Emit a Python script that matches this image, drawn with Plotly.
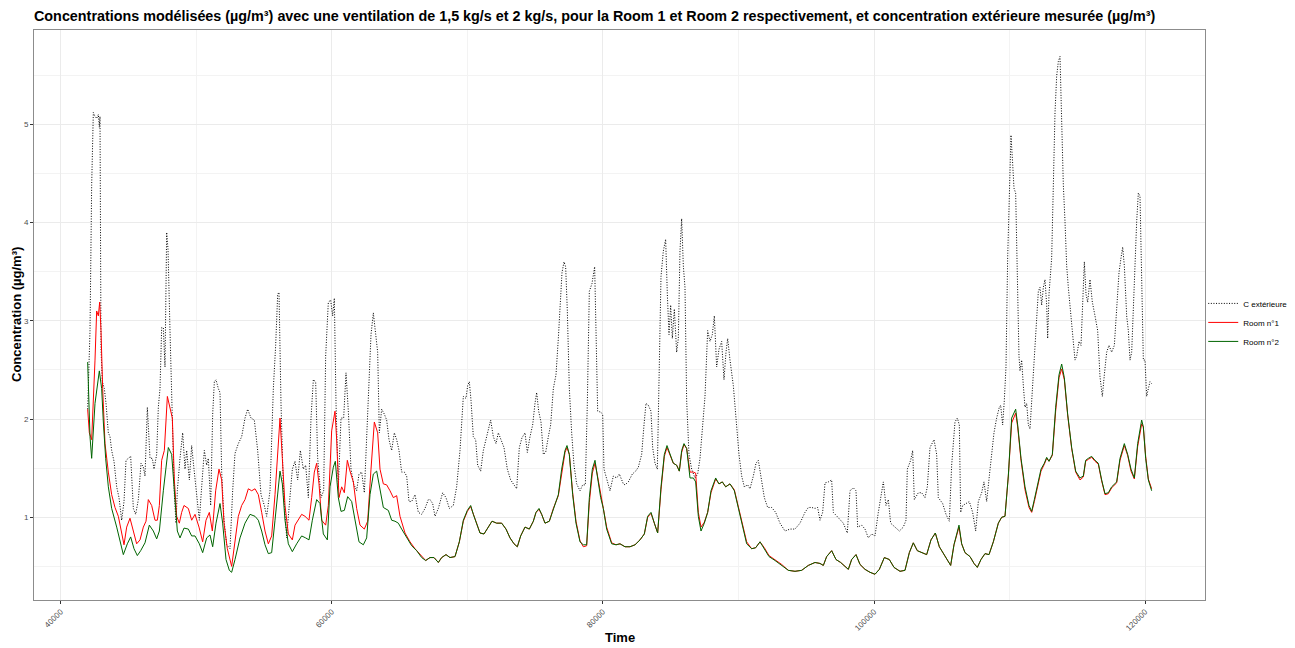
import plotly.graph_objects as go

# ---------------- data ----------------
time_ext = [
    41989, 42162, 42284, 42407, 42530, 42653, 42776, 42850, 42899, 42973, 43071, 43219, 43342, 43514, 43637, 43760,
    43932, 44130, 44301, 44498, 44670, 44817, 44989, 45162, 45358, 45530, 45727, 45924, 46096, 46219, 46391, 46588,
    46760, 46883, 47080, 47202, 47325, 47448, 47571, 47694, 47817, 47916, 48063, 48235, 48383, 48506, 48604, 48801,
    48998, 49170, 49293, 49490, 49661, 49834, 50030, 50227, 50399, 50596, 50768, 50891, 51063, 51211, 51334, 51457,
    51629, 51752, 51875, 52047, 52243, 52489, 52686,
    52858, 53104, 53350, 53596, 53792, 54038, 54284, 54530, 54776, 55022, 55194, 55440, 55686, 55858, 56006, 56104,
    56251, 56424, 56669, 56842, 57087, 57284, 57481, 57678, 57899, 58071, 58268, 58465, 58637, 58809, 58956, 59202,
    59399, 59546, 59743, 59915, 60063, 60186, 60309, 60481, 60678, 60874, 61046, 61219, 61415, 61612, 61833, 62005,
    62202, 62399, 62571, 62743, 62891, 63063, 63186, 63383, 63505, 63678, 63874, 64046, 64219, 64415, 64612, 64784,
    64956, 65153, 65350, 65522, 65694, 65891, 66137, 66383, 66628, 66874, 67120,
    67243, 67440, 67612, 67858, 68177, 68423, 68669, 68964, 69210, 69456, 69702, 69899, 70022, 70145, 70268, 70440,
    70612, 70759, 70981, 71177, 71472, 71718, 71915, 72112, 72284, 72456, 72702, 72948, 73194, 73440, 73636, 73833,
    74030, 74251, 74423, 74620, 74817, 74989, 75112, 75259, 75431, 75604, 75776, 75972, 76145, 76341, 76538, 76710,
    76833, 76981, 77128, 77251, 77374, 77522, 77694, 77866, 78063, 78309, 78505, 78702, 78849, 78997, 79194, 79390,
    79489, 79612, 79833, 79981, 80079, 80276, 80522, 80768, 81013, 81210, 81505,
    81628, 81874, 82169, 82415, 82612, 82858, 83030, 83177, 83349, 83546, 83669, 83841, 84013, 84136, 84284, 84456,
    84628, 84751, 84874, 84997, 85120, 85267, 85439, 85562, 85685, 85808, 85931, 86054, 86177, 86349, 86546, 86792,
    86989, 87161, 87333, 87530, 87726, 87898, 88071, 88218, 88390, 88562, 88759, 88931, 89079, 89202, 89374, 89620,
    89817, 90038, 90235, 90431, 90677, 90849, 91095, 91292, 91464, 91661, 91907, 92153, 92448, 92743, 93062, 93431,
    93800, 94169, 94538, 94907, 95153, 95398, 95644, 95841,
    96013, 96210, 96382, 96628, 96874, 96997, 97243, 97488, 97734, 98029, 98226, 98472, 98669, 98792, 99087, 99333,
    99579, 99824, 100070, 100316, 100562, 100685, 100880, 101054, 101226, 101546, 101865, 102161, 102357, 102456,
    102701, 102849, 102972, 103267, 103513, 103759, 103931, 104128, 104423, 104620, 104742, 105062, 105308, 105554,
    105726, 105972, 106144, 106292, 106390, 106538, 106783, 107029, 107275, 107497, 107693, 107939, 108111, 108308,
    108505, 108677, 108849, 109046, 109242, 109341, 109488, 109611, 109734, 109857, 109980, 110103, 110226, 110324,
    110447, 110570, 110693,
    110768, 110891, 111014, 111137, 111260, 111383, 111506, 111629, 111751, 111874, 112022, 112120, 112243, 112366,
    112489, 112612, 112735, 112809, 112907, 113006, 113104, 113227, 113350, 113473, 113596, 113719, 113842, 113965,
    114088, 114210, 114333, 114456, 114579, 114702, 114825, 114948, 115120, 115268, 115415, 115514, 115637, 115760,
    115932, 116104, 116301, 116497, 116669, 116842, 116989, 117161, 117333, 117530, 117727, 117899, 118071, 118219,
    118342, 118465, 118637, 118760, 118883, 119006, 119128, 119251, 119374, 119497, 119620, 119743, 119866, 119989,
    120112, 120235, 120358, 120481,
]
conc_ext = [
    2.10, 2.90, 4.38, 5.12, 5.08, 5.06, 5.10, 4.97, 5.08, 2.71, 2.38, 2.31, 2.16, 1.86, 1.82, 1.68,
    1.57, 1.31, 1.20, 0.97, 1.16, 1.58, 1.60, 1.62, 1.09, 1.03, 1.18, 1.55, 1.51, 1.42, 2.12, 1.60,
    1.60, 1.49, 1.64, 2.12, 2.31, 2.93, 2.93, 2.53, 3.90, 3.73, 2.90, 2.01, 1.23, 0.94, 1.27, 1.60,
    1.86, 1.49, 1.68, 1.38, 1.73, 1.49, 1.23, 0.97, 1.31, 1.68, 1.53, 1.60, 1.12, 2.05, 2.38, 2.40,
    2.31, 2.27, 1.46, 0.97, 0.72, 0.68, 1.27,
    1.65, 1.75, 1.82, 2.01, 2.10, 2.01, 1.99, 1.68, 1.23, 1.12, 1.01, 1.27, 2.31, 2.75, 3.27, 3.29,
    2.16, 1.31, 0.79, 1.09, 1.49, 1.57, 1.38, 1.68, 1.49, 1.53, 1.20, 2.01, 2.40, 2.38, 1.60, 1.20,
    1.27, 2.64, 3.19, 3.21, 3.05, 3.23, 2.16, 1.31, 2.01, 2.01, 2.47, 2.08, 1.49, 1.34, 1.27, 1.44,
    1.46, 1.25, 1.82, 2.31, 2.86, 3.08, 2.93, 2.68, 1.86, 2.10, 2.05, 1.99, 1.79, 1.68, 1.86, 1.79,
    1.68, 1.46, 1.46, 1.42, 1.16, 1.16, 1.23, 1.05, 1.03, 1.09, 1.18,
    1.18, 1.14, 1.01, 1.09, 1.25, 1.20, 1.09, 1.12, 1.31, 1.68, 2.23, 2.21, 2.34, 2.38, 2.19, 1.82,
    1.79, 1.53, 1.47, 1.68, 1.86, 1.99, 1.82, 1.75, 1.86, 1.79, 1.71, 1.49, 1.38, 1.33, 1.29, 1.71,
    1.81, 1.86, 1.66, 1.82, 1.94, 2.16, 2.27, 2.08, 1.97, 1.64, 1.66, 1.82, 1.94, 2.31, 2.45, 2.82,
    3.12, 3.49, 3.60, 3.55, 3.10, 2.31, 1.86, 1.53, 1.34, 1.27, 1.33, 1.33, 2.16, 3.30, 3.38, 3.55,
    2.90, 2.08, 2.07, 2.05, 1.49, 1.38, 1.27, 1.42, 1.40, 1.44, 1.34,
    1.33, 1.36, 1.44, 1.47, 1.51, 1.64, 1.94, 2.16, 2.14, 2.08, 1.71, 1.55, 1.49, 2.53, 3.45, 3.71,
    3.83, 3.27, 2.86, 3.16, 2.82, 3.12, 2.68, 2.82, 3.71, 4.04, 3.56, 3.34, 2.19, 1.64, 1.49, 1.40,
    1.44, 1.60, 1.94, 2.23, 2.90, 2.79, 2.86, 3.05, 2.53, 2.71, 2.79, 2.40, 2.68, 2.82, 2.60, 2.34,
    2.01, 1.64, 1.42, 1.31, 1.33, 1.29, 1.42, 1.55, 1.58, 1.42, 1.20, 1.10, 1.10, 1.05, 0.94, 0.86,
    0.88, 0.88, 0.94, 1.05, 1.10, 1.10, 1.09, 1.10,
    0.97, 1.05, 1.35, 1.36, 1.38, 1.05, 1.01, 0.97, 0.94, 0.84, 1.27, 1.30, 1.27, 0.90, 0.92, 0.88,
    0.79, 0.83, 0.81, 1.05, 1.23, 1.36, 1.12, 1.18, 0.94, 0.90, 0.86, 0.90, 0.97, 1.49,
    1.58, 1.68, 1.18, 1.25, 1.25, 1.20, 1.31, 1.71, 1.79, 1.64, 1.20, 1.14, 1.03, 0.96,
    1.53, 1.97, 2.01, 1.94, 1.05, 1.12, 1.14, 1.16, 1.05, 0.86, 1.16, 1.25, 1.36, 1.16,
    1.42, 1.64, 1.86, 2.01, 2.12, 2.14, 1.94, 2.19, 2.53, 3.64, 4.38, 4.89, 4.60, 4.35,
    4.30, 3.30, 2.64,
    2.49, 2.60, 2.34, 2.12, 2.16, 1.94, 1.90, 2.16, 2.53, 2.75, 3.05, 3.30, 3.34, 3.16,
    3.34, 3.42, 3.16, 2.82, 3.27, 3.49, 3.64, 4.38, 5.12, 5.49, 5.64, 5.69, 4.93, 4.38,
    4.01, 3.56, 3.34, 3.16, 2.90, 2.79, 2.60, 2.64, 2.79, 2.75, 3.27, 3.60, 3.27, 3.19,
    3.42, 3.19, 3.05, 2.90, 2.43, 2.23, 2.45, 2.68, 2.75, 2.68, 2.75, 3.08, 3.49, 3.64,
    3.75, 3.56, 3.05, 2.90, 2.60, 2.68, 3.05, 3.56, 4.01, 4.30, 4.27, 3.56, 2.60, 2.60,
    2.23, 2.31, 2.38, 2.36,
]

time_room1 = [
    41989, 42112, 42284, 42407, 42530, 42653, 42776, 42875, 42973, 43096, 43268, 43514, 43760, 44006, 44252, 44498,
    44670, 44867, 45112, 45358, 45604, 45850, 46096, 46293, 46465, 46711, 46957, 47129, 47277, 47448, 47645, 47868,
    48063, 48235, 48383, 48555, 48752, 48924, 49096, 49416, 49661, 49907, 50202, 50473, 50719, 50965, 51186, 51432,
    51678, 51875, 52047, 52293, 52612,
    52858, 53104, 53350, 53596, 53842, 54088, 54333, 54579, 54825, 55071, 55317, 55563, 55809, 56006, 56178, 56350,
    56547, 56792, 57087, 57284, 57530, 57776, 58022, 58317, 58514, 58710, 58883, 59055, 59251, 59546, 59743, 59989,
    60235, 60358, 60530, 60727, 60924, 61145, 61342, 61587, 61833, 62079, 62399, 62645, 62891, 63137, 63383, 63555,
    63801, 64046, 64292, 64538, 64784, 65030, 65399, 65768, 66137, 66505, 66923,
]
conc_room1 = [
    2.10, 1.86, 1.79, 2.16, 2.60, 3.10, 3.05, 3.19, 2.90, 2.31, 1.75, 1.46, 1.23, 1.10, 1.01, 0.84,
    0.72, 0.90, 0.99, 0.86, 0.73, 0.77, 0.90, 0.96, 1.18, 1.12, 0.97, 0.97, 1.12, 1.58, 1.68, 2.23,
    2.12, 2.01, 1.38, 1.01, 0.94, 1.05, 1.12, 1.09, 0.97, 1.03, 0.90, 0.75, 0.97, 1.05, 0.86, 1.27,
    1.49, 1.38, 0.94, 0.68, 0.50,
    0.73, 1.01, 1.12, 1.18, 1.29, 1.27, 1.29, 1.23, 1.05, 0.86, 0.73, 0.81, 1.23, 1.60, 2.01, 1.60,
    1.12, 0.83, 0.77, 0.92, 0.97, 1.03, 1.01, 0.97, 1.20, 1.46, 1.55, 1.34, 0.97, 0.92, 1.12, 1.88,
    2.08, 1.79, 1.20, 1.31, 1.25, 1.58, 1.47, 1.36, 1.09, 0.92, 0.88, 0.96, 1.49, 1.97, 1.86, 1.49,
    1.34, 1.33, 1.27, 1.20, 1.22, 1.01, 0.84, 0.75, 0.68, 0.62, 0.56,
]

time_room2 = [
    41989, 42162, 42284, 42530, 42850, 43022, 43145, 43317, 43514, 43760, 44130, 44375, 44621, 44916, 45162, 45407,
    45653, 45899, 46219, 46539, 46834, 47080, 47277, 47571, 47940, 48186, 48383, 48604, 48801, 49096, 49416, 49661,
    49907, 50227, 50473, 50768, 51014, 51211, 51457, 51752, 51948, 52194, 52440, 52612,
    52858, 53227, 53596, 53965, 54333, 54579, 54825, 55071, 55317, 55563, 55809, 56006, 56178, 56350, 56547, 56792,
    57087, 57407, 57776, 58071, 58317, 58563, 58883, 59128, 59374, 59669, 59866, 60112, 60260, 60481, 60678, 60924,
    61169, 61465, 61760, 62005, 62325, 62571, 62817, 63063, 63309, 63555, 63801, 64169, 64415, 64661, 64907, 65153,
    65522, 65891, 66260, 66628, 66923,
]
conc_room2 = [
    2.58, 1.82, 1.60, 2.16, 2.49, 2.31, 1.97, 1.60, 1.31, 1.09, 0.90, 0.75, 0.62, 0.73, 0.80, 0.68,
    0.61, 0.66, 0.74, 0.92, 0.86, 0.78, 0.86, 1.27, 1.71, 1.64, 1.23, 0.86, 0.79, 0.89, 0.88, 0.81,
    0.81, 0.73, 0.64, 0.79, 0.82, 0.70, 0.94, 1.14, 0.94, 0.57, 0.46, 0.44,
    0.57, 0.79, 0.94, 1.03, 1.01, 0.97, 0.86, 0.72, 0.63, 0.64, 0.97, 1.27, 1.47, 1.34, 0.97, 0.73,
    0.65, 0.73, 0.81, 0.79, 0.77, 0.97, 1.18, 1.14, 0.83, 0.77, 1.31, 1.51, 1.57, 1.20, 1.06, 1.07,
    1.21, 1.16, 0.94, 0.75, 0.72, 0.79, 1.23, 1.44, 1.47, 1.27, 1.10, 1.07, 0.97, 0.96, 0.94, 0.88,
    0.79, 0.71, 0.66, 0.59, 0.56,
]

# second half: both rooms share the same time stamps
time_rooms_late = [
    67243, 67538, 67858, 68104, 68423, 68718, 69087, 69407, 69702, 69997, 70243, 70440, 70735, 70932, 71227, 71546,
    71817, 72161, 72530, 72850, 73145, 73440, 73686, 73931, 74251, 74571, 74866, 75063, 75284, 75481, 75727, 76046,
    76341, 76710, 76956, 77202, 77349, 77522, 77768, 78013, 78309, 78554, 78800, 78997, 79218, 79415, 79587, 79833,
    80030, 80276, 80645, 80965, 81260,
    81628, 81997, 82366, 82735, 83054, 83300, 83546, 83792, 84038, 84284, 84530, 84726, 84948, 85194, 85439, 85636,
    85808, 85980, 86177, 86423, 86669, 86841, 87038, 87235, 87480, 87726, 87972, 88316, 88562, 88808, 89054, 89374,
    89694, 89989, 90284, 90603, 90972, 91267, 91587, 91907, 92251, 92694, 93185, 93677, 94169, 94661, 95153, 95644,
    96013, 96259, 96505, 96874, 97193, 97538, 97857, 98103, 98349, 98669, 98964, 99333, 99702, 100070, 100390,
    100759, 101128, 101472, 101915, 102283, 102603, 102898, 103193, 103513, 103882, 104201, 104521, 104816, 105160,
    105652, 105898, 106267, 106464, 106710, 107079, 107374, 107619, 107890, 108185, 108480, 108800, 109169, 109415,
    109660, 109906, 110152, 110447,
    110596, 110842, 111137, 111432, 111629, 111825, 112071, 112317, 112563, 112735, 112907, 113153, 113399, 113645,
    113842, 114038, 114284, 114579, 114874, 115194, 115440, 115612, 115809, 116055, 116301, 116547, 116792, 117038,
    117284, 117530, 117899, 118145, 118465, 118710, 118956, 119202, 119448, 119743, 119866, 120038, 120235, 120481,
]
conc_room1_late = [
    0.59, 0.59, 0.54, 0.59, 0.62, 0.59, 0.60, 0.75, 0.96, 1.06, 1.11, 1.03, 0.92, 0.84, 0.83, 0.90,
    0.96, 0.94, 0.94, 0.88, 0.79, 0.73, 0.70, 0.81, 0.90, 0.88, 0.96, 1.05, 1.08, 1.03, 0.94, 0.96,
    1.09, 1.22, 1.46, 1.66, 1.71, 1.64, 1.25, 0.96, 0.76, 0.70, 0.71, 1.15, 1.45, 1.55, 1.43, 1.22,
    1.09, 0.90, 0.74, 0.72, 0.73,
    0.70, 0.70, 0.72, 0.77, 0.83, 1.00, 1.04, 0.94, 0.84, 1.28, 1.62, 1.71, 1.64, 1.55, 1.53, 1.47,
    1.66, 1.74, 1.70, 1.46, 1.46, 1.45, 1.05, 0.90, 0.95, 1.05, 1.25, 1.39, 1.34, 1.36, 1.31, 1.34,
    1.28, 1.11, 0.92, 0.75, 0.68, 0.69, 0.75, 0.69, 0.61, 0.57, 0.52, 0.46, 0.45, 0.46, 0.51, 0.54,
    0.53, 0.51, 0.60, 0.66, 0.57, 0.54, 0.50, 0.47, 0.57, 0.62, 0.52, 0.47, 0.44, 0.42, 0.47,
    0.59, 0.57, 0.49, 0.45, 0.46, 0.64, 0.74, 0.66, 0.64, 0.62, 0.77, 0.84, 0.70, 0.62,
    0.51, 0.72, 0.90, 0.73, 0.64, 0.60, 0.53, 0.49, 0.57, 0.63, 0.62, 0.75, 0.94, 1.00,
    1.01, 1.42, 1.96, 2.06,
    1.92, 1.58, 1.28, 1.10, 1.05, 1.16, 1.32, 1.47, 1.54, 1.60, 1.57, 1.63, 2.08, 2.42,
    2.51, 2.40, 2.04, 1.70, 1.46, 1.38, 1.41, 1.57, 1.59, 1.61, 1.57, 1.54, 1.37, 1.23,
    1.24, 1.30, 1.35, 1.58, 1.73, 1.63, 1.47, 1.39, 1.72, 1.95, 1.92, 1.62, 1.39, 1.29,
]
conc_room2_late = [
    0.59, 0.59, 0.54, 0.59, 0.62, 0.59, 0.60, 0.75, 0.97, 1.07, 1.12, 1.03, 0.92, 0.84, 0.83, 0.90,
    0.96, 0.94, 0.94, 0.88, 0.79, 0.73, 0.70, 0.81, 0.90, 0.88, 0.96, 1.05, 1.09, 1.03, 0.94, 0.96,
    1.09, 1.23, 1.49, 1.68, 1.73, 1.64, 1.23, 0.94, 0.75, 0.72, 0.72, 1.20, 1.49, 1.58, 1.42, 1.20,
    1.09, 0.88, 0.73, 0.72, 0.73,
    0.70, 0.70, 0.72, 0.77, 0.83, 1.01, 1.05, 0.94, 0.84, 1.31, 1.64, 1.73, 1.64, 1.55, 1.53, 1.47,
    1.68, 1.75, 1.70, 1.40, 1.40, 1.36, 1.01, 0.86, 0.94, 1.05, 1.27, 1.40, 1.34, 1.36, 1.31, 1.34,
    1.27, 1.09, 0.90, 0.73, 0.68, 0.69, 0.75, 0.68, 0.60, 0.56, 0.51, 0.46, 0.45, 0.46, 0.51, 0.54,
    0.53, 0.51, 0.60, 0.66, 0.57, 0.54, 0.50, 0.47, 0.57, 0.62, 0.52, 0.47, 0.44, 0.42, 0.47,
    0.59, 0.57, 0.49, 0.45, 0.46, 0.64, 0.74, 0.66, 0.64, 0.62, 0.77, 0.84, 0.70, 0.62,
    0.51, 0.72, 0.92, 0.73, 0.64, 0.60, 0.53, 0.49, 0.57, 0.63, 0.62, 0.75, 0.94, 1.00,
    1.01, 1.42, 2.01, 2.10,
    1.94, 1.60, 1.31, 1.12, 1.06, 1.18, 1.34, 1.49, 1.55, 1.61, 1.57, 1.64, 2.12, 2.45,
    2.56, 2.42, 2.05, 1.71, 1.47, 1.40, 1.42, 1.58, 1.60, 1.62, 1.58, 1.55, 1.38, 1.24,
    1.25, 1.31, 1.36, 1.60, 1.75, 1.64, 1.49, 1.40, 1.75, 1.99, 1.92, 1.60, 1.38, 1.27,
]

series_names = ["C extérieure", "Room n°1", "Room n°2"]
x_tick_values = [40000, 60000, 80000, 100000, 120000]
x_tick_labels = ["40000", "60000", "80000", "100000", "120000"]
y_tick_values = [1, 2, 3, 4, 5]

pairs = [("ext", time_ext, conc_ext), ("r1", time_room1, conc_room1), ("r2", time_room2, conc_room2),
         ("r1late", time_rooms_late, conc_room1_late), ("r2late", time_rooms_late, conc_room2_late)]
for name, t, c in pairs:
    if len(t) != len(c):
        raise ValueError(f"{name}: {len(t)} times vs {len(c)} values")

x_room1 = time_room1 + time_rooms_late
y_room1 = conc_room1 + conc_room1_late
x_room2 = time_room2 + time_rooms_late
y_room2 = conc_room2 + conc_room2_late

FONT = "Liberation Sans, Arial, Helvetica, sans-serif"

fig = go.Figure()
fig.add_trace(go.Scatter(x=time_ext, y=conc_ext, mode="lines", name=series_names[0],
                         line=dict(color="black", width=1, dash="1px,1.6px")))
fig.add_trace(go.Scatter(x=x_room1, y=y_room1, mode="lines", name=series_names[1],
                         line=dict(color="#FF0000", width=1)))
fig.add_trace(go.Scatter(x=x_room2, y=y_room2, mode="lines", name=series_names[2],
                         line=dict(color="#006400", width=1)))

axis_common = dict(
    showline=True, linecolor="#8C8C8C", linewidth=1, mirror=True,
    showgrid=True, gridcolor="#EBEBEB", gridwidth=1,
    zeroline=False, ticks="outside", ticklen=3, tickcolor="#333333",
    tickfont=dict(family=FONT, size=8, color="#4D4D4D"),
)

fig.update_layout(
    width=1295, height=648,
    paper_bgcolor="white", plot_bgcolor="white",
    margin=dict(l=34, r=90, t=30, b=48, autoexpand=False),
    font=dict(family=FONT),
    title=dict(
        text="<b>Concentrations modélisées (µg/m³) avec une ventilation de 1,5 kg/s et 2 kg/s, pour la Room 1 et Room 2 respectivement, et concentration extérieure mesurée (µg/m³)</b>",
        x=34 / 1295, xanchor="left", xref="container",
        y=1 - 16 / 648, yanchor="middle", yref="container",
        font=dict(family=FONT, size=14.35, color="black"),
    ),
    xaxis=dict(
        range=[38030, 124415], tickvals=x_tick_values, ticktext=x_tick_labels, tickangle=-45,
        minor=dict(showgrid=True, gridcolor="#F3F3F3", dtick=10000, tick0=0, ticks=""),
        **axis_common,
    ),
    yaxis=dict(
        range=[0.158, 5.96], tickvals=y_tick_values,
        minor=dict(showgrid=True, gridcolor="#F3F3F3", dtick=0.5, tick0=0, ticks=""),
        **axis_common,
    ),
    legend=dict(
        x=0.9985, xanchor="left", y=0.487, yanchor="middle",
        font=dict(family=FONT, size=8, color="black"),
        bgcolor="rgba(0,0,0,0)", itemwidth=30, tracegroupgap=0,
    ),
    annotations=[
        dict(text="<b>Time</b>", xref="paper", yref="paper", x=0.5, y=0, yanchor="middle",
             yshift=-37, showarrow=False, font=dict(family=FONT, size=13, color="black")),
        dict(text="<b>Concentration (µg/m³)</b>", xref="paper", yref="paper", x=0, y=0.5,
             xanchor="center", xshift=-18, textangle=-90, showarrow=False,
             font=dict(family=FONT, size=13, color="black")),
    ],
)

fig.write_html("out.html")
